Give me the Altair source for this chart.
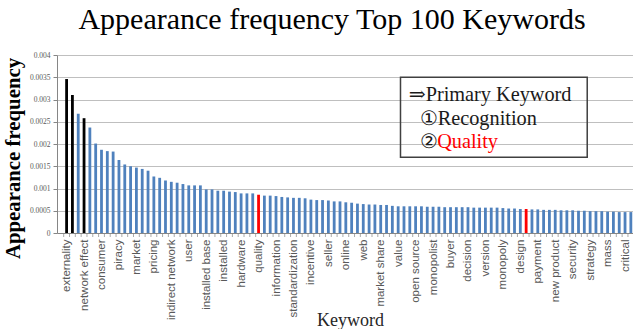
import altair as alt
import pandas as pd

# ---- data ----
values = [
    3.46e-3, 3.10e-3, 2.68e-3, 2.58e-3, 2.37e-3, 2.01e-3, 1.87e-3, 1.84e-3, 1.83e-3, 1.64e-3,
    1.54e-3, 1.50e-3, 1.47e-3, 1.44e-3, 1.40e-3, 1.27e-3, 1.24e-3, 1.18e-3, 1.15e-3, 1.13e-3,
    1.10e-3, 1.07e-3, 1.07e-3, 1.07e-3, 0.98e-3, 0.98e-3, 0.95e-3, 0.95e-3, 0.93e-3, 0.92e-3,
    0.89e-3, 0.89e-3, 0.89e-3, 0.86e-3, 0.84e-3, 0.84e-3, 0.83e-3, 0.81e-3, 0.80e-3, 0.79e-3,
    0.79e-3, 0.78e-3, 0.75e-3, 0.74e-3, 0.74e-3, 0.73e-3, 0.71e-3, 0.71e-3, 0.69e-3, 0.68e-3,
    0.66e-3, 0.65e-3, 0.64e-3, 0.64e-3, 0.63e-3, 0.63e-3, 0.61e-3, 0.60e-3, 0.60e-3, 0.60e-3,
    0.60e-3, 0.60e-3, 0.59e-3, 0.59e-3, 0.59e-3, 0.58e-3, 0.58e-3, 0.58e-3, 0.58e-3, 0.58e-3,
    0.57e-3, 0.57e-3, 0.57e-3, 0.57e-3, 0.57e-3, 0.56e-3, 0.55e-3, 0.55e-3, 0.54e-3, 0.54e-3,
    0.53e-3, 0.53e-3, 0.52e-3, 0.52e-3, 0.52e-3, 0.51e-3, 0.51e-3, 0.51e-3, 0.50e-3, 0.50e-3,
    0.49e-3, 0.49e-3, 0.49e-3, 0.48e-3, 0.48e-3, 0.47e-3, 0.47e-3, 0.47e-3, 0.46e-3, 0.46e-3,
]

# labels shown under every third bar
tick_labels = [
    "externality", "network effect", "consumer", "piracy", "market", "pricing",
    "indirect network", "user", "installed base", "installed", "hardware", "quality",
    "information", "standardization", "incentive", "seller", "online", "web",
    "market share", "value", "open source", "monopolist", "buyer", "decision",
    "version", "monopoly", "design", "payment", "new product", "security",
    "strategy", "mass", "critical",
]
label_step = 3

recognition_bars = [0, 1, 3]
quality_bars = [33, 79]

y_ticks = [0, 0.0005, 0.001, 0.0015, 0.002, 0.0025, 0.003, 0.0035, 0.004]

legend_lines = ["⇒Primary Keyword", "①Recognition", "②", "Quality"]

# ---- tables ----
rows = []
for i, v in enumerate(values):
    if i in recognition_bars:
        g = "Recognition"
    elif i in quality_bars:
        g = "Quality"
    else:
        g = "Other"
    rows.append({"rank": i, "freq": v, "group": g, "edge": i - 0.5})
df = pd.DataFrame(rows)

X_DOM = [-0.79, 96.51]
Y_DOM = [0, 0.004]
SERIF = "Liberation Serif, DejaVu Serif, serif"
SANS = "Liberation Sans, Arial, sans-serif"

xs = alt.Scale(domain=X_DOM, nice=False, zero=False)
ys = alt.Scale(domain=Y_DOM, nice=False, zero=True)

label_values = list(range(0, len(tick_labels) * label_step, label_step))
js_array = "[" + ",".join("'" + t + "'" for t in tick_labels) + "]"

X_AXIS = alt.Axis(
    orient="bottom", values=label_values,
    labelExpr=js_array + "[round(datum.value / 3)]",
    labelAngle=-90, labelFont=SANS, labelFontSize=11.5, labelColor="#595959",
    labelPadding=6, ticks=False, domain=True, domainColor="#868686", grid=False,
    labelOverlap=False, labelBound=False,
    title="Keyword", titleFont=SERIF, titleFontSize=18, titleFontWeight="normal",
    titleColor="#262626", titleX=293, titleY=92, titleBaseline="alphabetic",
    titleAlign="center")

Y_AXIS = alt.Axis(
    values=y_ticks, format="~g", grid=True, gridColor="#BFBFBF", gridWidth=1,
    domainColor="#868686", tickColor="#868686", tickSize=4,
    labelFont=SERIF, labelFontSize=7.5, labelColor="#595959", labelPadding=3,
    title="Appearance frequency", titleFont=SERIF, titleFontSize=20.8,
    titleFontWeight="bold", titleColor="#000000", titleAngle=-90,
    titleX=-37.5, titleY=103, titleBaseline="alphabetic", titleAlign="center")

bars = alt.Chart(df).mark_bar(size=2.8, clip=True).encode(
    x=alt.X("rank:Q", scale=xs, axis=X_AXIS),
    y=alt.Y("freq:Q", scale=ys, axis=Y_AXIS),
    color=alt.Color("group:N", scale=alt.Scale(
        domain=["Other", "Recognition", "Quality"],
        range=["#4F81BD", "#000000", "#FF0000"]), legend=None),
)

# small category-boundary ticks under the axis (one per bar edge)
edge_ticks = alt.Chart(df).transform_filter(
    alt.datum.edge <= X_DOM[1]
).mark_tick(orient="vertical", size=4, thickness=1, color="#868686", yOffset=2).encode(
    x=alt.X("edge:Q", scale=xs, axis=X_AXIS),
    y=alt.Y(datum=0, scale=ys, axis=Y_AXIS),
)

# annotation box and texts in data units
box_df = pd.DataFrame([{"bx1": 57.4, "bx2": 89.5, "by1": 0.0017, "by2": 0.0035}])
box = alt.Chart(box_df).mark_rect(fill=None, stroke="#404040", strokeWidth=1.5).encode(
    x=alt.X("bx1:Q", scale=xs, axis=X_AXIS),
    x2="bx2:Q",
    y=alt.Y("by1:Q", scale=ys, axis=Y_AXIS),
    y2="by2:Q",
)

text_df = pd.DataFrame([
    {"tx": 58.8, "ty": 0.00297, "t": legend_lines[0], "c": "black"},
    {"tx": 60.7, "ty": 0.00242, "t": legend_lines[1], "c": "black"},
    {"tx": 60.7, "ty": 0.00192, "t": legend_lines[2], "c": "black"},
    {"tx": 63.7, "ty": 0.00192, "t": legend_lines[3], "c": "red"},
])
texts = alt.Chart(text_df).mark_text(
    align="left", baseline="alphabetic", font=SERIF, fontSize=20.3
).encode(
    x=alt.X("tx:Q", scale=xs, axis=X_AXIS),
    y=alt.Y("ty:Q", scale=ys, axis=Y_AXIS),
    text="t:N",
    color=alt.Color("c:N", scale=alt.Scale(domain=["black", "red"],
                                           range=["#1A1A1A", "#FF0000"]), legend=None),
)

chart = alt.layer(bars, edge_ticks, box, texts).resolve_scale(
    color="independent"
).properties(
    width=576, height=178,
    title=alt.TitleParams("Appearance frequency Top 100 Keywords", font=SERIF,
                          fontSize=30, fontWeight="normal", color="#000000",
                          anchor="middle", frame="group", dx=-13, offset=16),
    autosize=alt.AutoSizeParams(type="none"),
    padding={"left": 57, "top": 55, "right": 0, "bottom": 96},
    background="white",
).configure_view(stroke=None)

chart.save("out.html", embed_options={"renderer": "svg", "actions": False})
